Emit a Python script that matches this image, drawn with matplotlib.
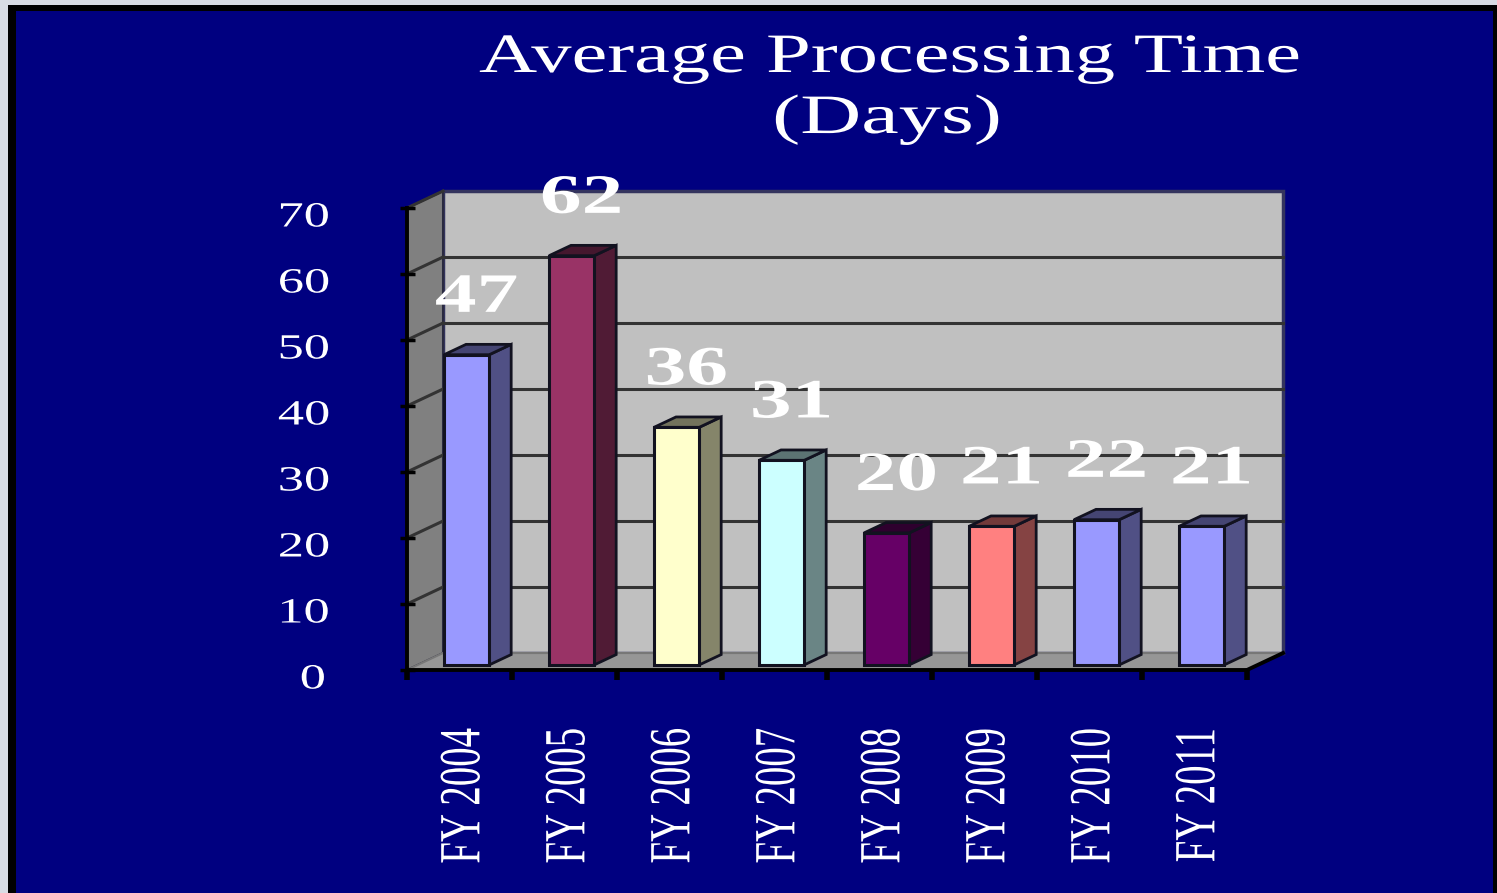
import numpy as np
import matplotlib
matplotlib.use("Agg")
import matplotlib.pyplot as plt
from matplotlib.patches import Rectangle, Polygon
from matplotlib.patheffects import AbstractPathEffect
from matplotlib.transforms import Affine2D, ScaledTranslation

# data
years = ["FY 2004", "FY 2005", "FY 2006", "FY 2007",
         "FY 2008", "FY 2009", "FY 2010", "FY 2011"]
days = [47, 62, 36, 31, 20, 21, 22, 21]
bar_colors = ["#9999ff", "#993366", "#ffffcc", "#ccffff",
              "#660066", "#ff8080", "#9999ff", "#9999ff"]
yticks = [0, 10, 20, 30, 40, 50, 60, 70]

W, H = 1497, 893
NAVY = "#000080"

# depth of the fake 3d box, in data units (x: categories, y: days)
DX, DY = 0.343, 2.57
F1, F2 = 0.30, 0.91      # front / back depth of bars
BX, BW = 0.25, 0.43      # bar left offset and width inside a category

plt.rcParams["font.family"] = "Liberation Serif"


class HStretch(AbstractPathEffect):
    # widen glyphs horizontally around their centre (the original is squeezed wide)
    def __init__(self, sx=1.48):
        super().__init__()
        self.sx = sx

    def draw_path(self, renderer, gc, tpath, affine, rgbFace=None):
        ext = tpath.get_extents(affine)
        cx = (ext.x0 + ext.x1) / 2
        st = Affine2D().translate(-cx, 0).scale(self.sx, 1).translate(cx, 0)
        renderer.draw_path(gc, tpath, affine + st, rgbFace)


def proj(x, y, f):
    return (x + f * DX, y + f * DY)


def shade(c, k):
    r, g, b = matplotlib.colors.to_rgb(c)
    return (r * k, g * k, b * k)


fig = plt.figure(figsize=(W / 100, H / 100), dpi=100, facecolor="#d8dce4")
fig.patches.append(Rectangle((8 / W, 0), (W - 8) / W, (H - 5) / H, zorder=-2,
                             transform=fig.transFigure, fc="black", ec="none"))
fig.patches.append(Rectangle((16 / W, 0), (1493 - 16) / W, (H - 11) / H, zorder=-1,
                             transform=fig.transFigure, fc=NAVY, ec="none"))

ax = fig.add_axes([407 / W, 1 - 670 / H, 840 / W, 462 / H])
ax.set_xlim(0, len(days))
ax.set_ylim(0, 70)
ax.patch.set_visible(False)
for s in ["top", "right"]:
    ax.spines[s].set_visible(False)
ax.spines["left"].set_color("black")
ax.spines["left"].set_linewidth(2.8)
ax.spines["bottom"].set_color("black")
ax.spines["bottom"].set_linewidth(2.8)
ax.spines["left"].set_zorder(6)
ax.spines["bottom"].set_zorder(6)

n = len(days)

# walls and floor
ax.add_patch(Rectangle(proj(0, 0, 1), n, 70, fc="#c0c0c0", ec="#34345e",
                       lw=2.5, zorder=0.5, clip_on=False))
ax.add_patch(Polygon([proj(0, 0, 0), proj(0, 70, 0), proj(0, 70, 1), proj(0, 0, 1)],
                     closed=True, fc="#808080", ec="#2a2a40", lw=1.5, zorder=0.6, clip_on=False))
ax.add_patch(Polygon([proj(0, 0, 0), proj(n, 0, 0), proj(n, 0, 1), proj(0, 0, 1)],
                     closed=True, fc="#969696", ec="#777777", lw=1.5, zorder=0.6, clip_on=False))
fx, fy = zip(proj(n, 0, 0), proj(n, 0, 1))
ax.plot(fx, fy, color="black", lw=2.8, zorder=6, clip_on=False)

# gridlines on back wall and side wall
for v in yticks[1:-1]:
    bx, by = zip(proj(0, v, 1), proj(n, v, 1))
    ax.plot(bx, by, color="#333333", lw=2.2, zorder=0.7, clip_on=False)
for v in yticks[1:]:
    sx_, sy_ = zip(proj(0, v, 0), proj(0, v, 1))
    ax.plot(sx_, sy_, color="#333333", lw=2.2, zorder=0.7, clip_on=False)

# bars: front faces through ax.bar, side and top as polygons
xs = np.arange(n) + BX
ox, oy = proj(0, 0, F1)
ax.bar(xs + ox, days, width=BW, bottom=oy, align="edge", color=bar_colors,
       edgecolor="#121220", linewidth=2.2, zorder=3, clip_on=False)
for x, v, c in zip(xs, days, bar_colors):
    side = [proj(x + BW, 0, F1), proj(x + BW, 0, F2), proj(x + BW, v, F2), proj(x + BW, v, F1)]
    top = [proj(x, v, F1), proj(x + BW, v, F1), proj(x + BW, v, F2), proj(x, v, F2)]
    ax.add_patch(Polygon(side, closed=True, fc=shade(c, 0.52), ec="#121220",
                         lw=2, zorder=2.9, clip_on=False))
    ax.add_patch(Polygon(top, closed=True, fc=shade(c, 0.45), ec="#121220",
                         lw=2, zorder=2.9, clip_on=False))

# value labels
for i, v in enumerate(days):
    ax.annotate(str(v), (i + 0.5, v), xytext=(12.2, 44.6), textcoords="offset points",
                ha="center", va="center", fontsize=40, fontweight="bold", color="white",
                annotation_clip=False, zorder=7, path_effects=[HStretch(1.5)])

# y axis
ax.set_yticks(yticks)
ax.tick_params(axis="y", direction="inout", length=10.8, width=2.5, color="black",
               pad=56, labelsize=25.5, labelcolor="white")
for lab in ax.get_yticklabels():
    lab.set_path_effects([HStretch(1.48)])
    lab.set_transform(lab.get_transform() + ScaledTranslation(0, -0.06, fig.dpi_scale_trans))

# x axis: ticks on category borders, labels in the middle
ax.set_xticks(np.arange(n + 1))
ax.set_xticks(np.arange(n) + 0.5, labels=years, minor=True)
ax.tick_params(axis="x", which="major", direction="out", length=7, width=4,
               color="black", labelbottom=False)
ax.tick_params(axis="x", which="minor", length=0, pad=41.8, labelsize=28,
               labelcolor="white", labelrotation=90)
for lab in ax.get_xticklabels(minor=True):
    lab.set_path_effects([HStretch(1.5)])
    lab.set_transform(lab.get_transform() + ScaledTranslation(0.04, 0, fig.dpi_scale_trans))

# title
fig.text(889 / W, 1 - 72 / H, "Average Processing Time", ha="center", va="baseline",
         fontsize=40, color="white", path_effects=[HStretch(1.45)])
fig.text(887 / W, 1 - 133 / H, "(Days)", ha="center", va="baseline",
         fontsize=40, color="white", path_effects=[HStretch(1.52)])

fig.savefig("out.png", dpi=100, facecolor=fig.get_facecolor())
